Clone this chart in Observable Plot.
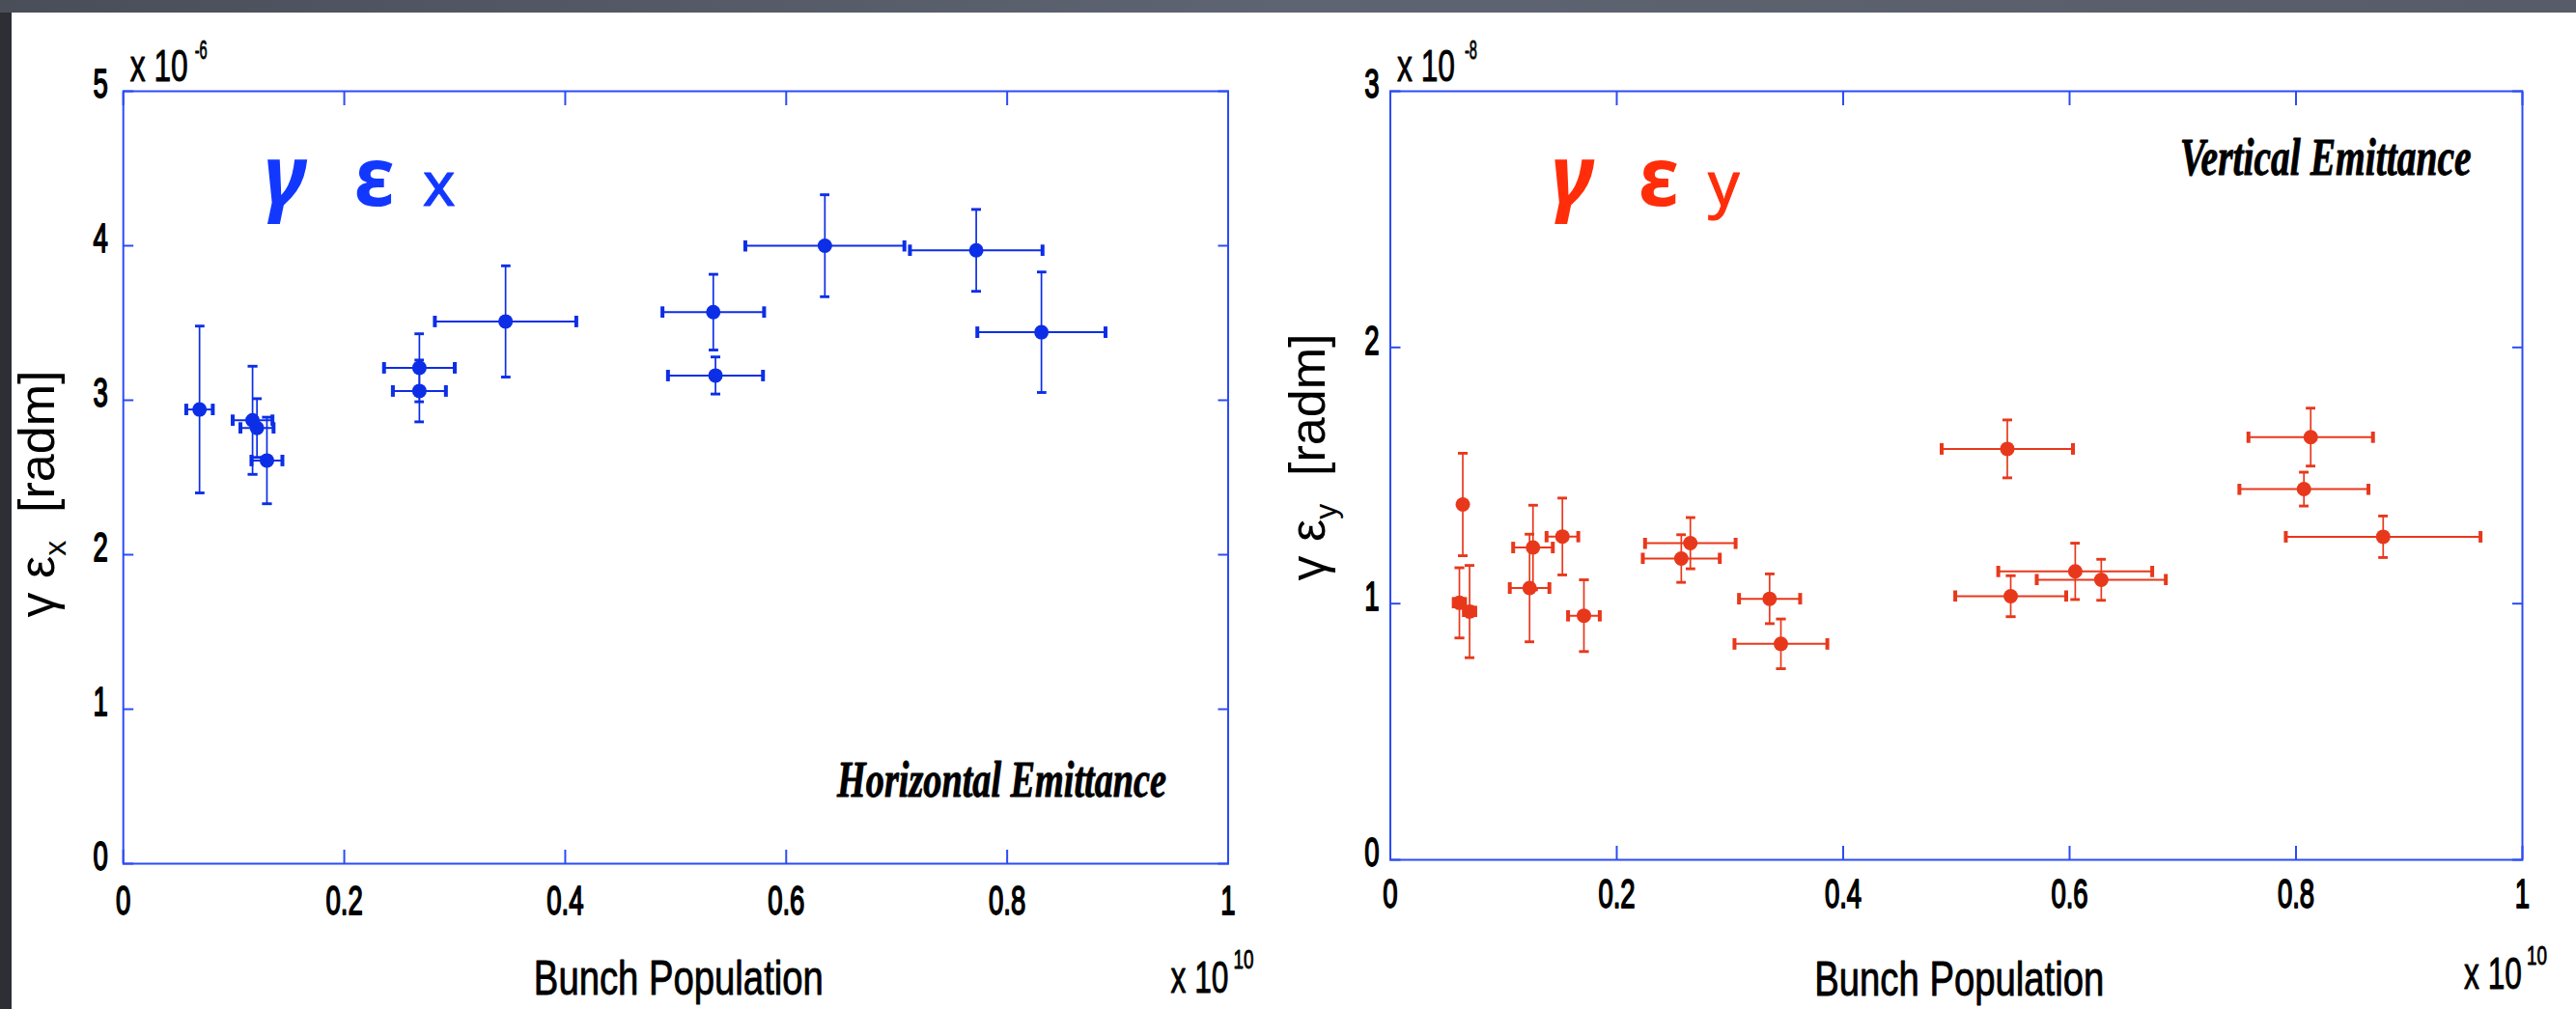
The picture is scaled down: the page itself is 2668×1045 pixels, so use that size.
<!DOCTYPE html>
<html><head><meta charset="utf-8">
<script src="https://cdn.jsdelivr.net/npm/d3@7"></script>
<script src="https://cdn.jsdelivr.net/npm/@observablehq/plot@0.6"></script>
<style>
html,body{margin:0;padding:0;}
body{width:2668px;height:1045px;background:#2d2f35;position:relative;overflow:hidden;}
#topband{position:absolute;left:0;top:0;width:2668px;height:13px;background:linear-gradient(90deg,#4a4e59,#5f6472 50%,#585c68);}
#panel{position:absolute;left:12px;top:13px;width:2656px;height:1032px;background:#fff;}
#left{position:absolute;left:12px;top:13px;width:1278px;height:1032px;}
#right{position:absolute;left:1290px;top:13px;width:1378px;height:1032px;}
</style></head><body>
<div id="topband"></div><div id="panel"></div>
<div id="left"></div><div id="right"></div>
<script>
// ---------- data ----------
const xTicks = [0, 0.2, 0.4, 0.6, 0.8, 1];
const xTickLabels = ["0", "0.2", "0.4", "0.6", "0.8", "1"];
const yTicksH = [0, 1, 2, 3, 4, 5];
const yTicksV = [0, 1, 2, 3];

// Horizontal emittance (x in 1e10, y in 1e-6 rad m)
const hPop    = [0.069, 0.117, 0.121, 0.130, 0.268, 0.268, 0.346, 0.534, 0.536, 0.635, 0.772, 0.831];
const hPopErr = [0.012, 0.018, 0.015, 0.014, 0.032, 0.024, 0.064, 0.046, 0.043, 0.072, 0.060, 0.058];
const hEmit   = [2.94, 2.87, 2.82, 2.61, 3.21, 3.06, 3.51, 3.57, 3.16, 4.00, 3.97, 3.44];
const hEmitErr= [0.54, 0.35, 0.19, 0.28, 0.22, 0.20, 0.36, 0.245, 0.12, 0.33, 0.265, 0.39];

// Vertical emittance (x in 1e10, y in 1e-8 rad m)
const vPop    = [0.064, 0.061, 0.070, 0.126, 0.123, 0.152, 0.171, 0.265, 0.257, 0.335, 0.345, 0.545, 0.813, 0.807, 0.877, 0.605, 0.628, 0.548];
const vPopErr = [0, 0.005, 0.005, 0.0175, 0.0175, 0.014, 0.014, 0.040, 0.034, 0.027, 0.041, 0.058, 0.055, 0.057, 0.086, 0.068, 0.057, 0.049];
const vEmit   = [1.387, 1.003, 0.969, 1.219, 1.061, 1.262, 0.953, 1.236, 1.176, 1.019, 0.843, 1.604, 1.650, 1.447, 1.261, 1.126, 1.093, 1.029];
const vEmitErr= [0.20, 0.137, 0.18, 0.165, 0.21, 0.15, 0.14, 0.10, 0.093, 0.097, 0.097, 0.113, 0.113, 0.066, 0.081, 0.11, 0.08, 0.08];

const FRAME = "#2c4cf4";
const SANS = "'Liberation Sans', Arial, sans-serif";
const SERIF = "'Liberation Serif', 'Times New Roman', serif";
const ANNO = "'Noto Sans', 'DejaVu Sans', sans-serif";

function makePanel(c) {
  const rows = c.pop.map((p, i) => ({x: p, xe: c.popErr[i], y: c.emit[i], ye: c.emitErr[i]}));
  const t = (s, o) => Plot.text([s], {text: d => d, ...o});
  const heavy = {fill: "black", stroke: "black", strokeWidth: 0.9};
  return Plot.plot({
    width: c.width, height: 1032,
    marginLeft: c.ml, marginRight: c.mr, marginTop: 81, marginBottom: c.mb,
    style: {background: "transparent", fontFamily: SANS, fontSize: "43px", color: "black", overflow: "visible"},
    x: {domain: [0, 1], axis: null, label: null},
    y: {domain: c.yDomain, axis: null, label: null},
    marks: [
      Plot.frame({stroke: FRAME, strokeWidth: 2}),
      // inward ticks on all four sides
      Plot.axisX({anchor: "bottom", ticks: xTicks, tickSize: -14, stroke: FRAME, strokeWidth: 2, fill: "none", label: null}),
      Plot.axisX({anchor: "top", ticks: xTicks, tickSize: -14, stroke: FRAME, strokeWidth: 2, fill: "none", label: null}),
      Plot.axisY({anchor: "left", ticks: c.yTicks, tickSize: -11, stroke: FRAME, strokeWidth: 2, fill: "none", label: null}),
      Plot.axisY({anchor: "right", ticks: c.yTicks, tickSize: -11, stroke: FRAME, strokeWidth: 2, fill: "none", label: null}),
      // tick labels
      Plot.text(xTicks, {x: d => d, text: d => xTickLabels[xTicks.indexOf(d)], frameAnchor: "bottom", dy: c.xPad, lineAnchor: "top", textAnchor: "middle", fontSize: 43, fill: "black", stroke: "black", strokeWidth: 1.8}),
      Plot.text(c.yTicks, {y: d => d, text: d => String(d), frameAnchor: "left", dx: -c.yPad, dy: -7, lineAnchor: "middle", textAnchor: "end", fontSize: 43, fill: "black", stroke: "black", strokeWidth: 1.8}),
      // error bars
      Plot.link(rows.filter(d => d.xe > 0), {x1: d => d.x - d.xe, x2: d => d.x + d.xe, y1: "y", y2: "y", stroke: c.color, strokeWidth: 2, markerStart: "tick", markerEnd: "tick"}),
      Plot.link(rows, {x1: "x", x2: "x", y1: d => d.y - d.ye, y2: d => d.y + d.ye, stroke: c.color, strokeWidth: 1.7, markerStart: "tick", markerEnd: "tick"}),
      Plot.dot(rows, {x: "x", y: "y", r: 7.5, fill: c.color, stroke: null}),
      // exponent labels
      t("x 10", {frameAnchor: "top-left", dx: 7, dy: -11, textAnchor: "start", lineAnchor: "bottom", fontSize: 46, ...heavy}),
      t(c.expTop, {frameAnchor: "top-left", dx: c.supTopDx, dy: -34, textAnchor: "start", lineAnchor: "bottom", fontSize: 28, ...heavy}),
      t("x 10", {frameAnchor: "bottom-right", dx: c.bxDx, dy: 133, textAnchor: "end", lineAnchor: "bottom", fontSize: 46, ...heavy}),
      t("10", {frameAnchor: "bottom-right", dx: c.bxDx + 5, dy: 108, textAnchor: "start", lineAnchor: "bottom", fontSize: 28, ...heavy}),
      // axis titles
      t("Bunch Population", {frameAnchor: "bottom", dx: 3, dy: c.xlabDy, textAnchor: "middle", lineAnchor: "bottom", fontSize: 50, ...heavy}),
      t(c.ylab, {frameAnchor: "left", dx: c.ylabDx, dy: c.ylabDy, rotate: -90, textAnchor: "middle", lineAnchor: "bottom", fontSize: 52, fill: "black"}),
      // big annotation
      t("γ", {frameAnchor: "top-left", dx: c.annoDx[0], dy: 118, textAnchor: "start", lineAnchor: "bottom", fontSize: 88, fontStyle: "italic", fontWeight: "bold", fontFamily: ANNO, fill: c.annoColor}),
      t("ε", {frameAnchor: "top-left", dx: c.annoDx[1], dy: 118, textAnchor: "start", lineAnchor: "bottom", fontSize: 84, fontWeight: "bold", fontFamily: ANNO, fill: c.annoColor}),
      t(c.annoSub, {frameAnchor: "top-left", dx: c.annoDx[2], dy: 118, textAnchor: "start", lineAnchor: "bottom", fontSize: 64, fontFamily: ANNO, fill: c.annoColor, stroke: c.annoColor, strokeWidth: 1}),
      // panel title
      t(c.title, {frameAnchor: c.titleAnchor, dx: c.titleDx, dy: c.titleDy, textAnchor: "end", lineAnchor: "bottom", fontSize: c.titleSize, fontFamily: SERIF, fontStyle: "italic", fontWeight: "bold", ...heavy})
    ]
  });
}

// horizontal-only condensing: append scale(k,1) to each text's own transform
function squeeze(el, k) {
  let tr = el.getAttribute("transform");
  if (!tr) {
    const x = +el.getAttribute("x") || 0, y = +el.getAttribute("y") || 0;
    el.removeAttribute("x"); el.removeAttribute("y");
    tr = `translate(${x},${y})`;
  }
  el.setAttribute("transform", `${tr} scale(${k},1)`);
}

function finish(svg, c) {
  const widths = {"x 10": 60, "-6": 13, "-8": 13, "10": 21, "Bunch Population": 300, [c.title]: c.titleWidth};
  const tickSet = new Set([...xTickLabels, ...c.yTicks.map(String)]);
  svg.querySelectorAll("text").forEach(el => {
    const s = el.textContent;
    if (Object.prototype.hasOwnProperty.call(widths, s)) { squeeze(el, widths[s] / el.getComputedTextLength()); return; }
    if (tickSet.has(s)) { squeeze(el, 0.64); return; }
    if (s === c.ylab) {
      const ns = "http://www.w3.org/2000/svg";
      el.textContent = "";
      const a = document.createElementNS(ns, "tspan"); a.textContent = "γ ε"; el.appendChild(a);
      const b = document.createElementNS(ns, "tspan"); b.textContent = c.ylabSub; b.setAttribute("font-size", "32"); b.setAttribute("dy", "12"); el.appendChild(b);
      const d = document.createElementNS(ns, "tspan"); d.textContent = "  [radm]"; d.setAttribute("dy", "-12"); el.appendChild(d);
    }
  });
}

const left = {
  width: 1278, ml: 115.2, mr: 18.5, mb: 151,
  pop: hPop, popErr: hPopErr, emit: hEmit, emitErr: hEmitErr,
  yDomain: [0, 5], yTicks: yTicksH, color: "#0c2ee6",
  xPad: 22, yPad: 16, expTop: "-6", supTopDx: 74, bxDx: 0.5, xlabDy: 135,
  ylab: "γ εx [radm]", ylabSub: "x", ylabDx: -72, ylabDy: 17,
  annoDx: [145, 239, 310], annoSub: "x", annoColor: "#1238ff",
  title: "Horizontal Emittance", titleAnchor: "bottom-right", titleDx: -64, titleDy: -70, titleWidth: 341, titleSize: 52
};
const right = {
  width: 1378, ml: 149.5, mr: 56, mb: 155,
  pop: vPop, popErr: vPopErr, emit: vEmit, emitErr: vEmitErr,
  yDomain: [0, 3], yTicks: yTicksV, color: "#e8381c",
  xPad: 19, yPad: 11.5, expTop: "-8", supTopDx: 77, bxDx: -0.5, xlabDy: 140,
  ylab: "γ εy [radm]", ylabSub: "y", ylabDx: -68.5, ylabDy: -19,
  annoDx: [166, 257, 329], annoSub: "y", annoColor: "#ff2d0a",
  title: "Vertical Emittance", titleAnchor: "top-right", titleDx: -53, titleDy: 86, titleWidth: 302, titleSize: 55
};

const s1 = makePanel(left); document.getElementById("left").appendChild(s1); finish(s1, left);
const s2 = makePanel(right); document.getElementById("right").appendChild(s2); finish(s2, right);
</script>
</body></html>
